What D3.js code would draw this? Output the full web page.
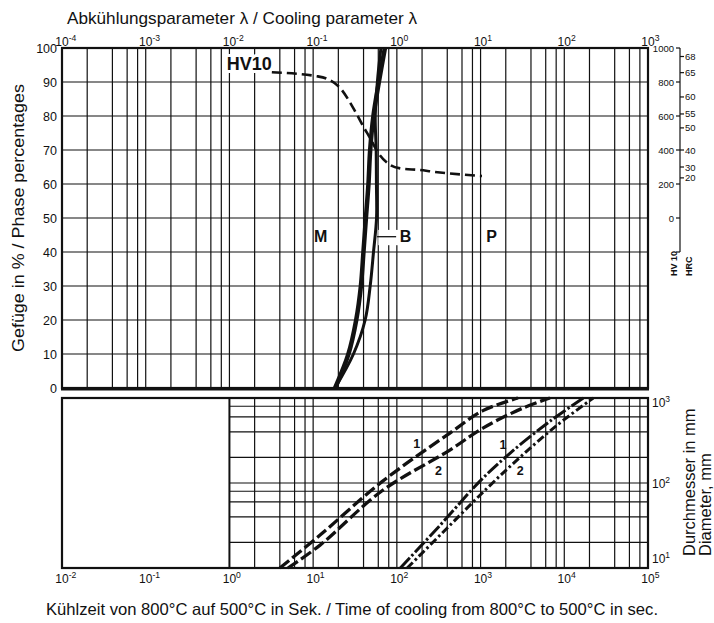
<!DOCTYPE html>
<html>
<head>
<meta charset="utf-8">
<script src="https://cdn.jsdelivr.net/npm/d3@7"></script>
<style>
  body { margin: 0; background: #fff; }
  svg { display: block; }
  text { font-family: "Liberation Sans", Arial, Helvetica, sans-serif; fill: #111; }
</style>
</head>
<body>
<svg id="chart" width="714" height="623"></svg>
<script>
// ---- Phase fractions (%) against cooling parameter λ ----
const phasePct         = [0, 10, 20, 30, 40, 50, 60, 70, 80, 90, 100];
const martensiteLambda = [0.183, 0.264, 0.327, 0.372, 0.399, 0.427, 0.458, 0.480, 0.525, 0.61, 0.72];
const bainiteLambda    = [0.183, 0.303, 0.418, 0.480, 0.526, 0.572, 0.570, 0.566, 0.552, 0.585, 0.645];

// ---- Hardness HV10 against λ ----
const hvLambda = [0.0321, 0.1107, 0.146, 0.210, 0.303, 0.399, 0.480, 0.603, 0.832, 1.096, 1.90, 2.74, 10.4];
const hvValues = [857, 834, 819, 765, 645, 537, 469, 381, 312, 292, 282, 272, 247];

// ---- Bar diameter (mm) against cooling time t8/5 (s) ----
const timeA1 = [4.0, 12.1, 66, 430, 1067, 2800];
const diaA1  = [10, 24.4, 103, 387, 710, 1000];
const timeA2 = [5.0, 12.1, 66, 430, 1067, 3210, 6750];
const diaA2  = [10, 18.6, 80.5, 244, 443, 762, 1000];
const timeB1 = [110, 330, 990, 2260, 6800, 16900];
const diaB1  = [10, 32, 106, 225, 536, 1000];
const timeB2 = [133, 400, 1200, 2980, 8250, 22200];
const diaB2  = [10, 29.6, 87, 202, 481, 1000];

// ---- Axis ticks ----
const lambdaExponents = [-4, -3, -2, -1, 0, 1, 2, 3];
const timeExponents   = [-2, -1, 0, 1, 2, 3, 4, 5];
const diaExponents    = [1, 2, 3];
const pctTicks  = [0, 10, 20, 30, 40, 50, 60, 70, 80, 90, 100];
const hvTicks   = [0, 200, 400, 600, 800, 1000];
const hrcTicks  = [68, 65, 60, 55, 50, 40, 30, 20];
const hrcAsHV   = [950, 855, 712, 612, 530, 400, 300, 236];
const gridSteps = [1, 2, 4, 6, 8];
const diaGrid   = [20, 40, 60, 80, 100, 200, 400, 600, 800];

const svg = d3.select("#chart");
const X0 = 62, X1 = 648;

const xLam  = d3.scaleLog().domain([1e-4, 1e3]).range([X0, X1]);
const xTime = d3.scaleLog().domain([1e-2, 1e5]).range([X0, X1]);
const yPct  = d3.scaleLinear().domain([0, 100]).range([388, 48]);
const yHV   = d3.scaleLinear().domain([0, 1000]).range([yPct(50), yPct(100)]);
const yDia  = d3.scaleLog().domain([10, 1000]).range([568, 398]);

const ink = "#111";

// ---------- upper panel grid ----------
const gTop = svg.append("g");
const lamGrid = [];
lambdaExponents.slice(0, -1).forEach(e => gridSteps.forEach(m => lamGrid.push(m * Math.pow(10, e))));
gTop.selectAll("line.v").data(lamGrid).join("line")
  .attr("x1", d => xLam(d)).attr("x2", d => xLam(d))
  .attr("y1", yPct(0)).attr("y2", yPct(100))
  .attr("stroke", ink).attr("stroke-width", 1.2);
gTop.selectAll("line.h").data(pctTicks.slice(1, -1)).join("line")
  .attr("x1", X0).attr("x2", X1)
  .attr("y1", d => yPct(d)).attr("y2", d => yPct(d))
  .attr("stroke", ink).attr("stroke-width", 1.2);
gTop.append("rect")
  .attr("x", X0).attr("y", yPct(100)).attr("width", X1 - X0).attr("height", yPct(0) - yPct(100))
  .attr("fill", "none").attr("stroke", ink).attr("stroke-width", 2.2);
gTop.append("line").attr("x1", X0 - 1).attr("x2", X1 + 1).attr("y1", yPct(0) + 1).attr("y2", yPct(0) + 1)
  .attr("stroke", ink).attr("stroke-width", 3);

// ---------- lower panel grid ----------
const gBot = svg.append("g");
const timeGrid = [];
timeExponents.filter(e => e >= 0 && e < 5).forEach(e => gridSteps.forEach(m => timeGrid.push(m * Math.pow(10, e))));
gBot.selectAll("line.v").data(timeGrid).join("line")
  .attr("x1", d => xTime(d)).attr("x2", d => xTime(d))
  .attr("y1", yDia(10)).attr("y2", yDia(1000))
  .attr("stroke", ink).attr("stroke-width", d => d === 1 ? 2 : 1.2);
gBot.selectAll("line.h").data(diaGrid).join("line")
  .attr("x1", xTime(1)).attr("x2", X1)
  .attr("y1", d => yDia(d)).attr("y2", d => yDia(d))
  .attr("stroke", ink).attr("stroke-width", 1.2);
gBot.append("rect")
  .attr("x", X0).attr("y", yDia(1000)).attr("width", X1 - X0).attr("height", yDia(10) - yDia(1000))
  .attr("fill", "none").attr("stroke", ink).attr("stroke-width", 2.2);

// ---------- power-of-ten labels ----------
function powLabel(g, x, y, exp, size) {
  const t = g.append("text").attr("x", x - size * 0.556).attr("y", y)
    .attr("font-size", size);
  t.append("tspan").text("10");
  t.append("tspan").attr("dy", -size * 0.45).attr("font-size", size * 0.72).text(exp);
  return t;
}
lambdaExponents.forEach(e => powLabel(svg, xLam(Math.pow(10, e)), 46, e, 12));
timeExponents.forEach(e => powLabel(svg, xTime(Math.pow(10, e)), 583, e, 12));
const diaLabelShift = { 1: -5, 2: 5, 3: 9 };
diaExponents.forEach(e => {
  const t = svg.append("text").attr("x", X1 + 4).attr("y", yDia(Math.pow(10, e)) + diaLabelShift[e])
    .attr("font-size", 12);
  t.append("tspan").text("10");
  t.append("tspan").attr("dy", -5).attr("font-size", 8.5).text(e);
});

// ---------- left axis (phase %) ----------
svg.selectAll("text.pct").data(pctTicks).join("text")
  .attr("x", 57).attr("y", d => yPct(d) + 4.5)
  .attr("text-anchor", "end").attr("font-size", 12.5)
  .text(d => d);

// ---------- right axis: HV10 and HRC ----------
const AX = 680;
const gHV = svg.append("g");
gHV.append("line").attr("x1", AX).attr("x2", AX).attr("y1", yHV(1000)).attr("y2", yPct(40))
  .attr("stroke", ink).attr("stroke-width", 1.2);
gHV.append("line").attr("x1", AX - 4).attr("x2", AX).attr("y1", yPct(40)).attr("y2", yPct(40))
  .attr("stroke", ink).attr("stroke-width", 1.2);
gHV.selectAll("line.hv").data(hvTicks).join("line")
  .attr("x1", AX - 4).attr("x2", AX).attr("y1", d => yHV(d)).attr("y2", d => yHV(d))
  .attr("stroke", ink).attr("stroke-width", 1.2);
gHV.selectAll("text.hv").data(hvTicks).join("text")
  .attr("x", AX - 6).attr("y", d => yHV(d) + 3.5)
  .attr("text-anchor", "end").attr("font-size", 9.5)
  .text(d => d);
gHV.selectAll("line.hrc").data(hrcTicks).join("line")
  .attr("x1", AX).attr("x2", AX + 4)
  .attr("y1", (d, i) => yHV(hrcAsHV[i])).attr("y2", (d, i) => yHV(hrcAsHV[i]))
  .attr("stroke", ink).attr("stroke-width", 1.2);
gHV.selectAll("text.hrc").data(hrcTicks).join("text")
  .attr("x", AX + 5).attr("y", (d, i) => yHV(hrcAsHV[i]) + 3.5)
  .attr("font-size", 9.5)
  .text(d => d);
gHV.append("text").attr("transform", `translate(${AX - 3},${yPct(40) + 24}) rotate(-90)`)
  .attr("font-size", 9).attr("font-weight", "bold").text("HV 10");
gHV.append("text").attr("transform", `translate(${AX + 12},${yPct(40) + 24}) rotate(-90)`)
  .attr("font-size", 9).attr("font-weight", "bold").text("HRC");

// ---------- upper panel curves ----------
const phaseLine = lam => d3.line()
  .x((d, i) => xLam(lam[i])).y(d => yPct(d))
  .curve(d3.curveCatmullRom.alpha(0.5));
svg.append("path").datum(phasePct).attr("d", phaseLine(bainiteLambda))
  .attr("fill", "none").attr("stroke", ink).attr("stroke-width", 3);
svg.append("path").datum(phasePct).attr("d", phaseLine(martensiteLambda))
  .attr("fill", "none").attr("stroke", ink).attr("stroke-width", 4.5);

const hvLine = d3.line().x((d, i) => xLam(hvLambda[i])).y(d => yHV(d))
  .curve(d3.curveMonotoneX);
svg.append("path").datum(hvValues).attr("d", hvLine)
  .attr("fill", "none").attr("stroke", ink).attr("stroke-width", 2.6)
  .attr("stroke-dasharray", "10,5");

// phase labels
const halo = sel => sel.attr("stroke", "#fff").attr("stroke-width", 6)
  .attr("paint-order", "stroke").attr("stroke-linejoin", "round");
svg.append("text").attr("x", xLam(0.0321)).attr("y", yPct(93.6))
  .attr("text-anchor", "end").attr("font-size", 18).attr("font-weight", "bold")
  .call(halo).text("HV10");
svg.append("text").attr("x", xLam(0.123)).attr("y", yPct(42.9))
  .attr("text-anchor", "middle").attr("font-size", 16).attr("font-weight", "bold").text("M");
svg.append("rect").attr("x", xLam(0.6)).attr("y", yPct(46.5))
  .attr("width", xLam(1.08) - xLam(0.6)).attr("height", yPct(42) - yPct(46.5)).attr("fill", "#fff");
svg.append("line").attr("x1", xLam(0.58)).attr("x2", xLam(0.98))
  .attr("y1", yPct(44.5)).attr("y2", yPct(44.5)).attr("stroke", ink).attr("stroke-width", 1.3);
svg.append("text").attr("x", xLam(1.27)).attr("y", yPct(42.9))
  .attr("text-anchor", "middle").attr("font-size", 16).attr("font-weight", "bold").text("B");
svg.append("text").attr("x", xLam(13.5)).attr("y", yPct(42.9))
  .attr("text-anchor", "middle").attr("font-size", 16).attr("font-weight", "bold").text("P");

// ---------- lower panel curves ----------
const diaLine = tm => d3.line()
  .x((d, i) => xTime(tm[i])).y(d => yDia(d))
  .curve(d3.curveCatmullRom.alpha(0.5));
const gCurves = svg.append("g").attr("fill", "none").attr("stroke", ink);
gCurves.append("path").datum(diaA1).attr("d", diaLine(timeA1))
  .attr("stroke-width", 3.3).attr("stroke-dasharray", "12,4");
gCurves.append("path").datum(diaA2).attr("d", diaLine(timeA2))
  .attr("stroke-width", 3.3).attr("stroke-dasharray", "12,4");
gCurves.append("path").datum(diaB1).attr("d", diaLine(timeB1))
  .attr("stroke-width", 3).attr("stroke-dasharray", "14,2.5,2.5,2.5");
gCurves.append("path").datum(diaB2).attr("d", diaLine(timeB2))
  .attr("stroke-width", 3).attr("stroke-dasharray", "8,3,2.5,3");

const curveTags = [
  { t: 173, d: 295, s: "1" }, { t: 314, d: 142, s: "2" },
  { t: 1850, d: 280, s: "1" }, { t: 2980, d: 142, s: "2" }
];
svg.selectAll("text.tag").data(curveTags).join("text")
  .attr("x", d => xTime(d.t)).attr("y", d => yDia(d.d) + 4.5)
  .attr("text-anchor", "middle").attr("font-size", 12.5).attr("font-weight", "bold")
  .text(d => d.s);

// ---------- titles ----------
svg.append("text").attr("x", 67).attr("y", 24).attr("font-size", 17)
  .attr("textLength", 350).attr("lengthAdjust", "spacingAndGlyphs")
  .attr("fill", "#222").text("Abkühlungsparameter λ / Cooling parameter λ");
svg.append("text").attr("x", 46).attr("y", 615).attr("font-size", 16.5)
  .attr("textLength", 612).attr("lengthAdjust", "spacingAndGlyphs")
  .attr("fill", "#222")
  .text("Kühlzeit von 800°C auf 500°C in Sek. / Time of cooling from 800°C to 500°C in sec.");
svg.append("text").attr("transform", `translate(24,${yPct(50)}) rotate(-90)`)
  .attr("text-anchor", "middle").attr("font-size", 17)
  .attr("textLength", 268).attr("lengthAdjust", "spacingAndGlyphs")
  .attr("fill", "#222").text("Gefüge in % / Phase percentages");
svg.append("text").attr("transform", "translate(695,556) rotate(-90)")
  .attr("font-size", 16.5).attr("fill", "#222").text("Durchmesser in mm");
svg.append("text").attr("transform", "translate(711,556) rotate(-90)")
  .attr("font-size", 16.5).attr("fill", "#222").text("Diameter, mm");
</script>
</body>
</html>
